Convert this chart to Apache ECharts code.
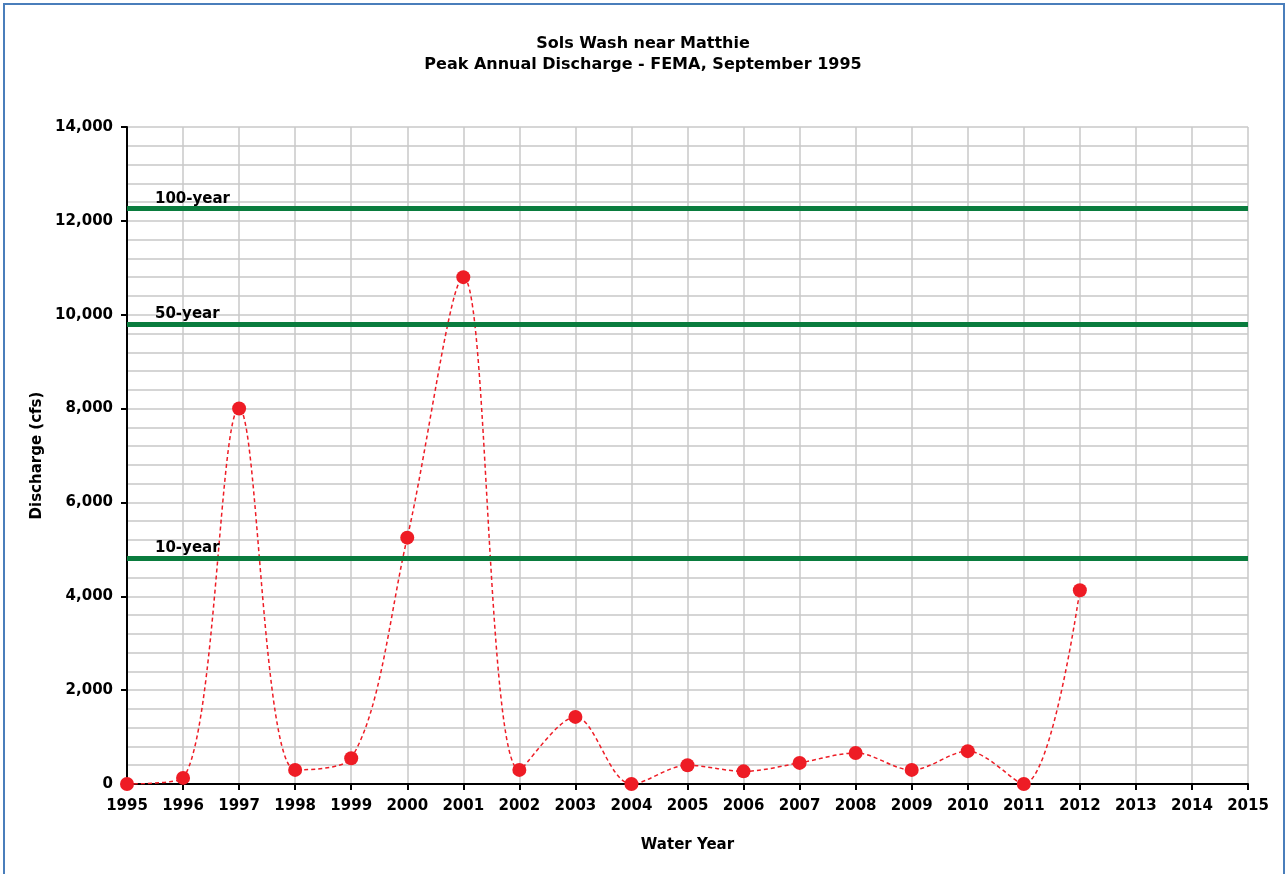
<!DOCTYPE html>
<html>
<head>
    <meta charset="utf-8">
    <title>Sols Wash near Matthie</title>
    <script src="https://cdn.jsdelivr.net/npm/echarts@6/dist/echarts.min.js"></script>
    <style type="text/css">
        *{margin: 0;padding: 0;}
        body{width: 1286px;height: 874px;overflow: hidden;background: #fff;}
        #frame{position: absolute;left: 3px;top: 3px;width: 1278px;height: 880px;border: 2px solid #4a7ebb;border-bottom: 0;}
        #main{position: absolute;left: 0;top: 0;width: 1286px;height: 874px;}
    </style>
</head>
<body>
<div id="frame"></div>
<div id="main"></div>
<script type="text/javascript">
    // peak annual discharge, cfs
    var years = [1995, 1996, 1997, 1998, 1999, 2000, 2001, 2002, 2003, 2004, 2005, 2006, 2007, 2008, 2009, 2010, 2011, 2012];
    var discharge = [0, 130, 8000, 300, 550, 5250, 10800, 300, 1430, 0, 400, 270, 450, 660, 300, 700, 0, 4130];
    // FEMA return period flows
    var returnNames = ['100-year', '50-year', '10-year'];
    var returnFlows = [12270, 9800, 4820];

    var font = 'DejaVu Sans, Arial, sans-serif';
    var myChart = echarts.init(document.getElementById('main'));

    var points = [];
    for (var i = 0; i < years.length; i++) {
        points.push([years[i], discharge[i]]);
    }
    var marks = [];
    for (var j = 0; j < returnFlows.length; j++) {
        marks.push({yAxis: returnFlows[j], name: returnNames[j]});
    }

    function commas(v) {
        return String(v).replace(/\B(?=(\d{3})+(?!\d))/g, ',');
    }

    var option = {
        animation: false,
        title: {
            text: 'Sols Wash near Matthie\nPeak Annual Discharge - FEMA, September 1995',
            left: 'center',
            top: 28,
            textStyle: {fontFamily: font, fontSize: 16, fontWeight: 'bold', color: '#000', lineHeight: 21}
        },
        grid: {left: 127, right: 38, top: 127, bottom: 90},
        xAxis: {
            type: 'value',
            min: 1995,
            max: 2015,
            interval: 1,
            name: 'Water Year',
            nameLocation: 'middle',
            nameGap: 54,
            nameTextStyle: {fontFamily: font, fontSize: 15, fontWeight: 'bold', color: '#000'},
            axisLine: {lineStyle: {color: '#000', width: 2}},
            axisTick: {show: true, length: 6, lineStyle: {color: '#000', width: 2}},
            axisLabel: {
                fontFamily: font, fontSize: 15, fontWeight: 'bold', color: '#000', margin: 15,
                formatter: function (v) { return String(v); }
            },
            splitLine: {show: true, lineStyle: {color: '#c8c8c8', width: 1.5}}
        },
        yAxis: {
            type: 'value',
            min: 0,
            max: 14000,
            interval: 2000,
            name: 'Discharge (cfs)',
            nameLocation: 'middle',
            nameGap: 82,
            nameTextStyle: {fontFamily: font, fontSize: 15, fontWeight: 'bold', color: '#000'},
            axisLine: {show: true, lineStyle: {color: '#000', width: 2}},
            axisTick: {show: true, length: 6, lineStyle: {color: '#000', width: 2}},
            axisLabel: {
                fontFamily: font, fontSize: 15, fontWeight: 'bold', color: '#000', margin: 14,
                formatter: commas
            },
            splitLine: {show: true, lineStyle: {color: '#c8c8c8', width: 1.5}},
            minorTick: {show: false, splitNumber: 5},
            minorSplitLine: {show: true, lineStyle: {color: '#c8c8c8', width: 1.5}}
        },
        series: [{
            name: 'Peak discharge',
            type: 'line',
            data: points,
            smooth: 0.33,
            symbol: 'circle',
            symbolSize: 14,
            itemStyle: {color: '#ee1c25'},
            lineStyle: {color: '#ee1c25', width: 1.5, type: [4, 3]},
            z: 3,
            markLine: {
                silent: true,
                symbol: 'none',
                lineStyle: {color: '#0a7c3e', width: 5, type: 'solid'},
                label: {
                    show: true,
                    position: 'insideStartTop',
                    distance: [28, 2],
                    formatter: '{b}',
                    fontFamily: font, fontSize: 15, fontWeight: 'bold', color: '#000'
                },
                data: marks
            }
        }]
    };
    myChart.setOption(option);
</script>
</body>
</html>
